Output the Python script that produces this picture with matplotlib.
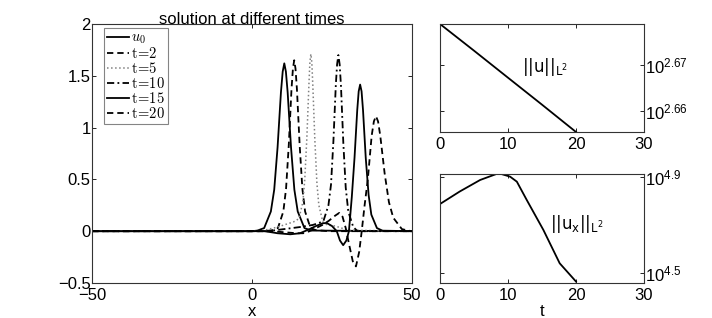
import matplotlib
matplotlib.use('Agg')
import matplotlib.pyplot as plt
from matplotlib.font_manager import FontProperties

plt.rcParams['font.family'] = ['Liberation Sans', 'DejaVu Sans']
plt.rcParams['xtick.direction'] = 'in'
plt.rcParams['ytick.direction'] = 'in'

# solution snapshots u(x, t)
x_u0 = [-50, 0, 1.7, 3.8, 5.9, 6.95, 8.0, 9.05, 9.6, 10.1, 10.6, 11.15, 12.2, 13.25, 14.3, 16.4, 18.5, 50]
y_u0 = [0, 0, 0.006, 0.03, 0.19, 0.40, 0.81, 1.34, 1.54, 1.62, 1.54, 1.34, 0.81, 0.40, 0.19, 0.03, 0.006, 0]

x_t2 = [-50, 0, 4, 6.4, 8.1, 9.8, 10.65, 11.5, 12.35, 12.8, 13.2, 13.6, 14.05, 14.9, 15.75, 16.6, 18.3, 20.0, 24, 50]
y_t2 = [0, 0, 0.0, 0.01, 0.03, 0.19, 0.41, 0.83, 1.37, 1.57, 1.65, 1.57, 1.37, 0.83, 0.41, 0.19, 0.03, 0.01, 0, 0]

x_t5 = [-50, 0, 4, 8, 11, 13, 14.65, 15.9, 16.5, 17.15, 17.8, 18.1, 18.4, 18.7, 19.0, 19.65, 20.3, 20.9,
        22.15, 23.5, 26, 30, 50]
y_t5 = [0, 0, 0.01, 0.04, 0.07, 0.09, 0.12, 0.28, 0.50, 0.90, 1.42, 1.63, 1.71, 1.63, 1.42, 0.88, 0.46, 0.25,
        0.09, 0.06, 0.05, 0.01, 0]

x_t10 = [-50, 0, 5, 10, 15, 19, 21, 22.35, 23.9, 24.7, 25.45, 26.2, 26.6, 27, 27.4, 27.8, 28.55, 29.3, 30.1,
         31.65, 33, 36, 50]
y_t10 = [0, 0, 0.0, 0.02, 0.04, 0.06, 0.08, 0.10, 0.25, 0.45, 0.87, 1.41, 1.61, 1.70, 1.61, 1.41, 0.85, 0.42, 0.19,
         0.04, 0.0, 0, 0]

x_t15 = [-50, 0, 4, 8, 12, 15, 18, 20, 22, 23.3, 25, 26.5, 27.5, 28.5, 29.5, 30.3, 31.2, 32.05, 32.9, 33.35,
         33.8, 34.25, 34.7, 35.55, 36.45, 37.3, 39.05, 40.8, 50]
y_t15 = [0, 0, 0, -0.02, -0.03, -0.02, 0.02, 0.05, 0.075, 0.08, 0.05, 0.0, -0.09, -0.135, -0.09, 0.0, 0.33, 0.71, 1.17, 1.35,
         1.415, 1.35, 1.17, 0.71, 0.35, 0.16, 0.03, 0.005, 0]

x_t20 = [-50, 0, 6, 10, 14, 16, 18, 20, 22, 24, 26, 27.3, 28.3, 29.3, 30.3, 31.5, 32.5, 33.5, 34.3, 35.2,
         36.2, 37.4, 38.1, 38.75, 39.4, 40.1, 41.45, 42.8, 44.15, 46.85, 49, 50]
y_t20 = [0, 0, 0, -0.01, -0.02, -0.02, 0.0, 0.03, 0.06, 0.10, 0.15, 0.177, 0.14, 0.03, -0.12, -0.29, -0.34, -0.20, 0.0, 0.25,
         0.50, 0.92, 1.06, 1.11, 1.06, 0.92, 0.56, 0.28, 0.13, 0.02, 0.005, 0]

# norms over time
t_l2 = [0, 5, 10, 15, 20]
u_l2 = [477.4, 471.1, 464.8, 458.6, 452.4]

t_h1 = [0, 2.9, 5.9, 8.3, 9.0, 10.3, 11.3, 12.75, 15.2, 17.6, 20]
ux_l2 = [61094, 68865, 76913, 81470, 81470, 79433, 75683, 63533, 47643, 34594, 29040]

fig = plt.figure(figsize=(7.12, 3.18), dpi=100)

ax = fig.add_axes([0.1292, 0.1101, 0.4494, 0.8145])
ax.plot(x_u0, y_u0, '-', color='k', lw=1.3, label='$u_0$')
ax.plot(x_t2, y_t2, '--', color='k', lw=1.3, dashes=(3.5, 2.2), label=r'$\mathrm{t}\!=\!2$')
ax.plot(x_t5, y_t5, ':', color='0.5', lw=1.1, label=r'$\mathrm{t}\!=\!5$')
ax.plot(x_t10, y_t10, '-.', color='k', lw=1.3, dashes=(4, 1.8, 1, 1.8), label=r'$\mathrm{t}\!=\!10$')
ax.plot(x_t15, y_t15, '-', color='k', lw=1.3, label=r'$\mathrm{t}\!=\!15$')
ax.plot(x_t20, y_t20, '--', color='k', lw=1.3, dashes=(3.5, 2.2), label=r'$\mathrm{t}\!=\!20$')
ax.set_xlim(-50, 50)
ax.set_ylim(-0.5, 2)
ax.set_xticks([-50, 0, 50])
ax.set_yticks([-0.5, 0, 0.5, 1, 1.5, 2])
ax.set_yticklabels(['\u22120.5', '0', '0.5', '1', '1.5', '2'])
ax.set_xticklabels(['\u221250', '0', '50'])
ax.tick_params(labelsize=12, top=True, right=True, length=3, width=0.6)
ax.tick_params(axis='y', pad=1)
ax.tick_params(axis='x', pad=3.5)
ax.set_title('solution at different times', fontsize=12, pad=0)
ax.set_xlabel('x', fontsize=12, labelpad=0.5)
leg_font = FontProperties(family='DejaVu Serif', size=10.5, math_fontfamily='cm')
leg = ax.legend(loc='upper left', prop=leg_font, handlelength=1.5, handletextpad=0.15,
                labelspacing=0.0, borderpad=0.2, fancybox=False, edgecolor='0.4',
                bbox_to_anchor=(0.037, 0.985), borderaxespad=0)
leg.get_frame().set_linewidth(0.8)

sans_math = FontProperties(family='DejaVu Sans', size=12, math_fontfamily='dejavusans')

ax1 = fig.add_axes([0.618, 0.5849, 0.2865, 0.3396])
ax1.plot(t_l2, u_l2, '-', color='k', lw=1.3)
ax1.set_yscale('log')
ax1.set_xlim(0, 30)
ax1.set_ylim(452.4, 477.4)
ax1.set_xticks([0, 10, 20, 30])
ax1.yaxis.tick_right()
ax1.set_yticks([10 ** 2.66, 10 ** 2.67])
ax1.set_yticklabels([r'$\mathregular{10^{2.66}}$', r'$\mathregular{10^{2.67}}$'])
ax1.minorticks_off()
ax1.tick_params(labelsize=12, top=True, left=True, right=True, length=3, width=0.6)
ax1.tick_params(axis='y', pad=1)
ax1.tick_params(axis='x', pad=3.5)
ax1.text(0.515, 0.60, r'$||\mathrm{u}||_{\mathrm{L}^2}$', transform=ax1.transAxes,
         ha='center', va='center', fontproperties=sans_math)

ax2 = fig.add_axes([0.618, 0.1101, 0.2865, 0.3428])
ax2.plot(t_h1, ux_l2, '-', color='k', lw=1.3)
ax2.set_yscale('log')
ax2.set_xlim(0, 30)
ax2.set_ylim(10 ** 4.457, 10 ** 4.911)
ax2.set_xticks([0, 10, 20, 30])
ax2.yaxis.tick_right()
ax2.set_yticks([10 ** 4.5, 10 ** 4.9])
ax2.set_yticklabels([r'$\mathregular{10^{4.5}}$', r'$\mathregular{10^{4.9}}$'])
ax2.minorticks_off()
ax2.tick_params(labelsize=12, top=True, left=True, right=True, length=3, width=0.6)
ax2.tick_params(axis='y', pad=1)
ax2.tick_params(axis='x', pad=3.5)
ax2.set_xlabel('t', fontsize=12, labelpad=0.5)
ax2.text(0.67, 0.54, r'$||\mathrm{u}_{\mathrm{x}}||_{\mathrm{L}^2}$', transform=ax2.transAxes,
         ha='center', va='center', fontproperties=sans_math)

for a in (ax, ax1, ax2):
    for s in a.spines.values():
        s.set_linewidth(0.8)
        s.set_color('0.2')

fig.savefig('out.png', dpi=100)
